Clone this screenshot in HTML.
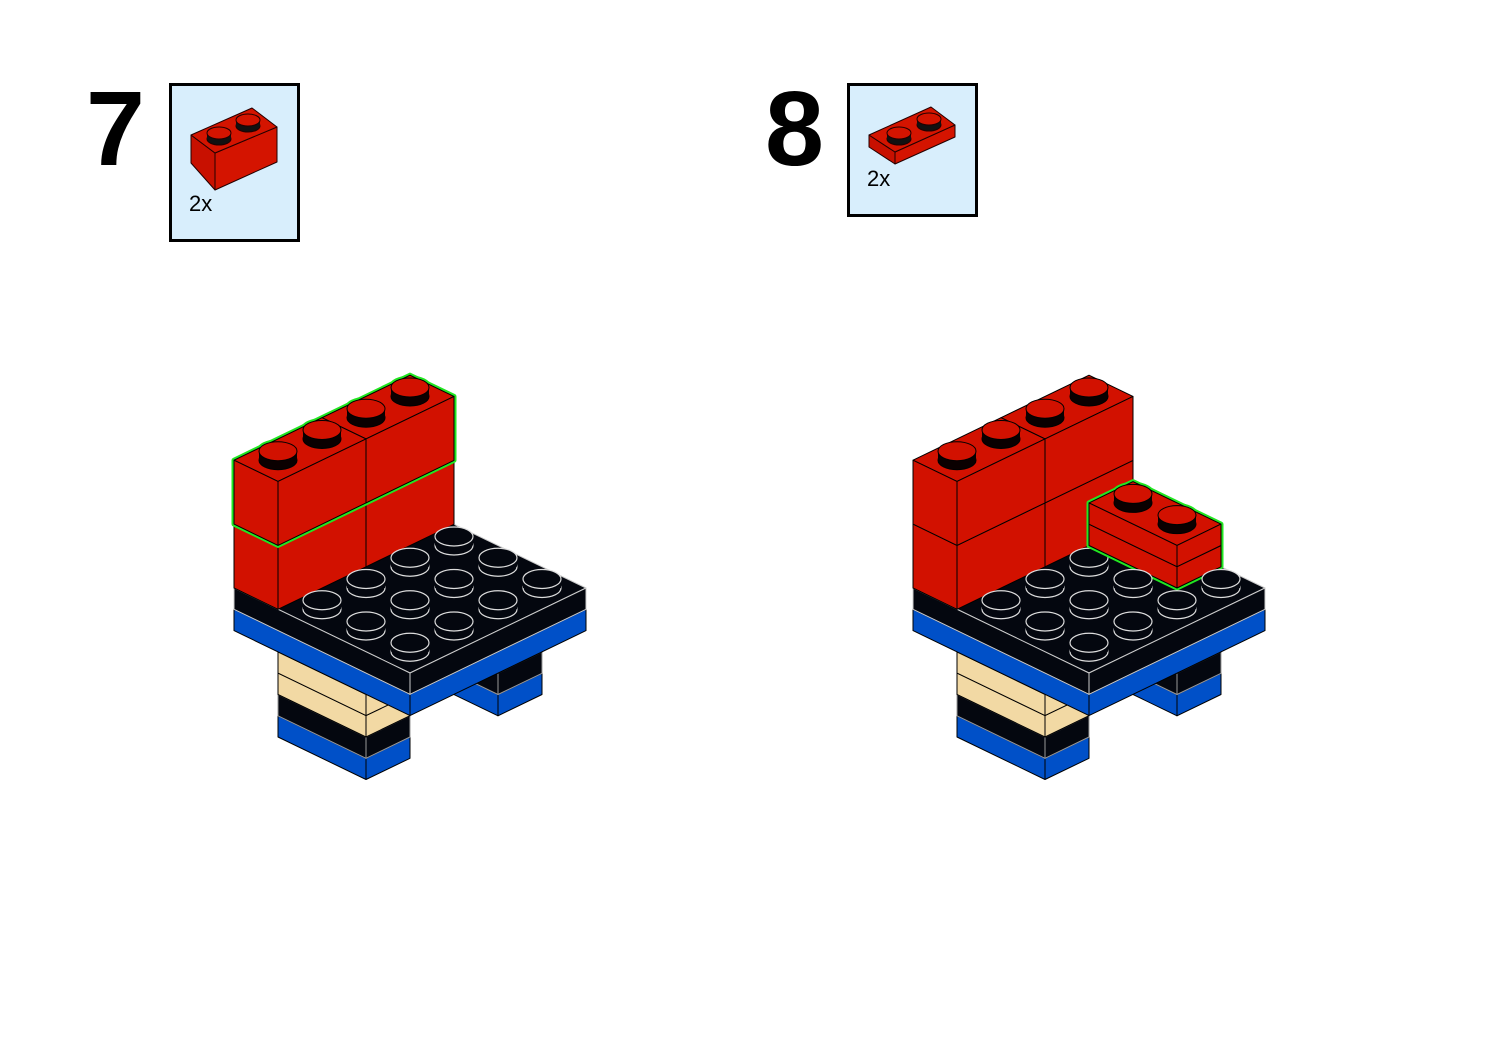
<!DOCTYPE html>
<html><head><meta charset="utf-8"><style>
html,body{margin:0;padding:0;background:#fff;width:1500px;height:1061px;overflow:hidden}
svg{display:block}
</style></head><body>
<svg id="s" width="1500" height="1061" viewBox="0 0 1500 1061" xmlns="http://www.w3.org/2000/svg">
<rect width="1500" height="1061" fill="#fff"/>
<text x="86" y="165" font-family="Liberation Sans, sans-serif" font-weight="bold" font-size="106">7</text>
<text x="765" y="165" font-family="Liberation Sans, sans-serif" font-weight="bold" font-size="106">8</text>
<rect x="170.5" y="84.5" width="128" height="156" fill="#d8eefc" stroke="#000" stroke-width="3"/>
<rect x="848.5" y="84.5" width="128" height="131" fill="#d8eefc" stroke="#000" stroke-width="3"/>
<g stroke="#200" stroke-width="1" stroke-linejoin="round">
<polygon points="191,135 215,153 215,190 191,163" fill="#c81000"/>
<polygon points="215,153 277,127 277,162 215,190" fill="#d41400"/>
<polygon points="191,135 252,108 277,127 215,153" fill="#d41400"/>
<ellipse cx="219" cy="139" rx="12" ry="6" fill="#111"/><rect x="207" y="133" width="24" height="6" fill="#111" stroke="none"/><ellipse cx="219" cy="133" rx="12" ry="6" fill="#d41400"/>
<ellipse cx="248" cy="126" rx="12" ry="6" fill="#111"/><rect x="236" y="120" width="24" height="6" fill="#111" stroke="none"/><ellipse cx="248" cy="120" rx="12" ry="6" fill="#d41400"/>
<polygon points="869,135 895,152 895,164 869,147" fill="#c81000"/>
<polygon points="895,152 955,125 955,137 895,164" fill="#d41400"/>
<polygon points="869,135 931,107 955,125 895,152" fill="#d41400"/>
<ellipse cx="899" cy="139" rx="12" ry="6" fill="#111"/><rect x="887" y="133" width="24" height="6" fill="#111" stroke="none"/><ellipse cx="899" cy="133" rx="12" ry="6" fill="#d41400"/>
<ellipse cx="929" cy="125" rx="12" ry="6" fill="#111"/><rect x="917" y="119" width="24" height="6" fill="#111" stroke="none"/><ellipse cx="929" cy="119" rx="12" ry="6" fill="#d41400"/>
</g>
<text x="189" y="211" font-family="Liberation Sans, sans-serif" font-size="22">2x</text>
<text x="867" y="186" font-family="Liberation Sans, sans-serif" font-size="22">2x</text>
<g id="m"></g>
</svg>
<script>
var NS="http://www.w3.org/2000/svg",G=document.getElementById("m");
var RED="#d21100",BLK="#04070f",BLU="#0050c8",TAN="#f2d9a4",GRN="#22e622";
function P(o,i,j,z){return [o+44*(i+j),588+21.25*(j-i)-21.3*z];}
function el(t,a){var e=document.createElementNS(NS,t);for(var k in a)e.setAttribute(k,a[k]);G.appendChild(e);return e;}
function poly(pts,fill,st,w){el("polygon",{points:pts.map(function(p){return p[0].toFixed(1)+","+p[1].toFixed(1)}).join(" "),fill:fill,stroke:st,"stroke-width":w||1,"stroke-linejoin":"round"});}
function box(o,i0,i1,j0,j1,z0,z1,c,st){st=st||"#000";
 poly([P(o,i0,j0,z1),P(o,i1,j0,z1),P(o,i1,j1,z1),P(o,i0,j1,z1)],c,st);
 poly([P(o,i0,j0,z1),P(o,i0,j1,z1),P(o,i0,j1,z0),P(o,i0,j0,z0)],c,st);
 poly([P(o,i0,j1,z1),P(o,i1,j1,z1),P(o,i1,j1,z0),P(o,i0,j1,z0)],c,st);}
function halo(o,i0,i1,j0,j1,z0,z1,studs){
 poly([P(o,i0,j0,z0),P(o,i0,j0,z1),P(o,i1,j0,z1),P(o,i1,j1,z1),P(o,i1,j1,z0),P(o,i0,j1,z0)],GRN,GRN,5);
 studs.forEach(function(s){var b=P(o,s[0]+.5,s[1]+.5,z1);
  el("ellipse",{cx:b[0],cy:b[1]-9,rx:19,ry:9.5,fill:GRN,stroke:GRN,"stroke-width":5});});}
function stud(o,i,j,z,c){var b=P(o,i+.5,j+.5,z),x=b[0],y=b[1],rx=19,ry=9.5,h=9;
 if(c==BLK){
  el("ellipse",{cx:x,cy:y,rx:rx,ry:ry,fill:BLK,stroke:"#ddd","stroke-width":1.2});
  el("rect",{x:x-rx,y:y-h,width:2*rx,height:h,fill:BLK});
  el("ellipse",{cx:x,cy:y-h,rx:rx,ry:ry,fill:BLK,stroke:"#ddd","stroke-width":1.2});
 }else{
  el("ellipse",{cx:x,cy:y,rx:rx,ry:ry,fill:"#0a0000",stroke:"#000"});
  el("rect",{x:x-rx,y:y-h,width:2*rx,height:h,fill:"#0a0000"});
  el("ellipse",{cx:x,cy:y-h,rx:rx,ry:ry,fill:c,stroke:"#000"});
 }}
function legs(o){
 [[3,4],[0,1]].forEach(function(r){
  box(o,r[0],r[1],1,3,-6,-5,BLU);box(o,r[0],r[1],1,3,-5,-4,BLK,"#999");
  box(o,r[0],r[1],1,3,-4,-3,TAN);box(o,r[0],r[1],1,3,-3,-2,TAN);});
 box(o,0,4,0,4,-2,-1,BLU);box(o,0,4,0,4,-1,0,BLK,"#ccc");}
function wall(o,green){
 box(o,2,4,0,1,0,3,RED);box(o,0,2,0,1,0,3,RED);
 if(green)halo(o,0,4,0,1,3,6,[[0,0],[1,0],[2,0],[3,0]]);
 box(o,2,4,0,1,3,6,RED);box(o,0,2,0,1,3,6,RED);
 for(var i=3;i>=0;i--)stud(o,i,0,6,RED);}
function cells(skip){var a=[];for(var j=1;j<4;j++)for(var i=0;i<4;i++)if(!skip||!skip(i,j))a.push([i,j]);
 a.sort(function(p,q){return (p[1]-p[0])-(q[1]-q[0])||q[0]-p[0];});return a;}
var o=234;legs(o);wall(o,true);cells().forEach(function(c){stud(o,c[0],c[1],0,BLK);});
o=913;legs(o);wall(o,false);
var front=function(i,j){return (i==2&&j==2)||(i==3&&j==3)||(i==2&&j==3);};
cells(function(i,j){return (i==3&&(j==1||j==2))||front(i,j);}).forEach(function(c){stud(o,c[0],c[1],0,BLK);});
halo(o,3,4,1,3,0,2,[[3,1],[3,2]]);
box(o,3,4,1,3,0,1,RED);box(o,3,4,1,3,1,2,RED);
stud(o,3,2,2,RED);stud(o,3,1,2,RED);
cells(function(i,j){return !front(i,j);}).forEach(function(c){stud(o,c[0],c[1],0,BLK);});
</script>
</body></html>
